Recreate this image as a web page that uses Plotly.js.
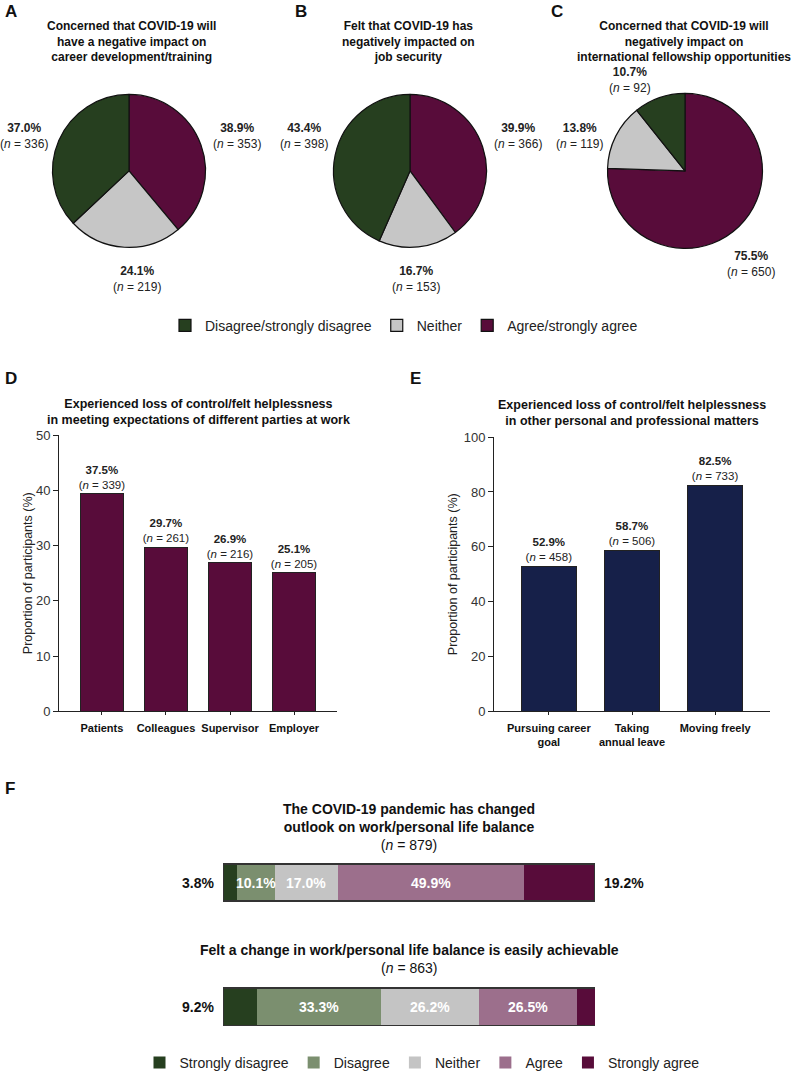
<!DOCTYPE html>
<html>
<head>
<meta charset="utf-8">
<script src="https://cdn.plot.ly/plotly-3.0.1.min.js"></script>
<style>
  html, body { margin: 0; padding: 0; background: #fff; }
  #chart { width: 795px; height: 1079px; }
</style>
</head>
<body>
<div id="chart"></div>
<script>
// Pies A-C: share of answers (same label order in every pie)
const pieLabels = ['Disagree/strongly disagree', 'Neither', 'Agree/strongly agree'];
const careerPct = [37.0, 24.1, 38.9];
const careerN = [336, 219, 353];
const jobPct = [43.4, 16.7, 39.9];
const jobN = [398, 153, 366];
const fellowPct = [10.7, 13.8, 75.5];
const fellowN = [92, 119, 650];

// Panel D: parties at work (bar heights as drawn, labels as printed)
const partiesCats = ['Patients', 'Colleagues', 'Supervisor', 'Employer'];
const partiesBar = [39.4, 29.7, 26.9, 25.1];
const partiesPct = [37.5, 29.7, 26.9, 25.1];
const partiesN = [339, 261, 216, 205];

// Panel E: other personal and professional matters
const mattersCats = ['Pursuing career<br>goal', 'Taking<br>annual leave', 'Moving freely'];
const mattersPct = [52.9, 58.7, 82.5];
const mattersN = [458, 506, 733];

// Panel F: work/life balance, 5-point scale
const likertLevels = ['Strongly disagree', 'Disagree', 'Neither', 'Agree', 'Strongly agree'];
const balanceQs = ['outlook', 'achievable'];
const balanceTitles = ['The COVID-19 pandemic has changed<br>outlook on work/personal life balance',
                       'Felt a change in work/personal life balance is easily achievable'];
const balanceN = [879, 863];
const outlookPct = [3.8, 10.1, 17.0, 49.9, 19.2];
const achievablePct = [9.2, 33.3, 26.2, 26.5, 4.9];

const PIE_COLORS = ['#263f1f', '#c6c6c6', '#580c3a'];
const LIKERT_COLORS = ['#263f1f', '#7b8f6f', '#c4c4c4', '#9c6f8c', '#580c3a'];
const PARTIES_COLOR = '#580c3a';
const MATTERS_COLOR = '#162049';

const W = 795, H = 1079;
const px = v => v / W;
const py = v => 1 - v / H;
const nLabel = (pct, n) => `<b>${pct.toFixed(1)}%</b><br>(<i>n</i> = ${n})`;
const sum = arr => arr.reduce((a, b) => a + b, 0);
const rev = arr => arr.slice().reverse();

const traces = [];

// pies: agree first, clockwise from 12 o'clock (legend is reversed back)
function pieTrace(values, x0, y0, size) {
    return {
        type: 'pie',
        labels: rev(pieLabels),
        values: rev(values),
        sort: false,
        direction: 'clockwise',
        rotation: 0,
        marker: { colors: rev(PIE_COLORS), line: { color: '#111', width: 1.2 } },
        textinfo: 'none',
        hoverinfo: 'label+percent',
        domain: { x: [px(x0), px(x0 + size)], y: [py(y0 + size), py(y0)] },
        legend: 'legend'
    };
}
traces.push(pieTrace(careerPct, 52, 95, 154));
traces.push(pieTrace(jobPct, 333, 95, 154));
traces.push(pieTrace(fellowPct, 607, 94, 156));

// D bars
traces.push({
    type: 'bar', x: partiesCats, y: partiesBar, xaxis: 'x', yaxis: 'y', width: 0.66,
    marker: { color: PARTIES_COLOR, line: { color: '#222', width: 1 } },
    text: partiesPct.map((p, i) => nLabel(p, partiesN[i])),
    textposition: 'outside', constraintext: 'none', cliponaxis: false,
    textfont: { size: 11.5, color: '#222' }, showlegend: false, hoverinfo: 'x+y'
});

// E bars
traces.push({
    type: 'bar', x: mattersCats, y: mattersPct, xaxis: 'x2', yaxis: 'y2', width: 0.66,
    marker: { color: MATTERS_COLOR, line: { color: '#222', width: 1 } },
    text: mattersPct.map((p, i) => nLabel(p, mattersN[i])),
    textposition: 'outside', constraintext: 'none', cliponaxis: false,
    textfont: { size: 11.5, color: '#222' }, showlegend: false, hoverinfo: 'x+y'
});

// F stacked bars
likertLevels.forEach((lvl, i) => {
    traces.push({
        type: 'bar', orientation: 'h', name: lvl,
        x: [outlookPct[i], achievablePct[i]], y: balanceQs,
        xaxis: 'x3', yaxis: 'y3', width: 0.3,
        marker: { color: LIKERT_COLORS[i], line: { color: '#333', width: 0 } },
        legend: 'legend2', hoverinfo: 'name+x'
    });
});
// outline round each stacked bar
traces.push({
    type: 'bar', orientation: 'h',
    x: [sum(outlookPct), sum(achievablePct)], y: balanceQs,
    xaxis: 'x4', yaxis: 'y4', width: 0.3,
    marker: { color: 'rgba(0,0,0,0)', line: { color: '#333', width: 1.5 } },
    showlegend: false, hoverinfo: 'skip'
});

// annotations
const annotations = [];
const letter = (t, x, y) => annotations.push({
    text: `<b>${t}</b>`, x: px(x), y: py(y), xref: 'paper', yref: 'paper',
    xanchor: 'left', yanchor: 'middle', showarrow: false, font: { size: 17, color: '#111' }
});
const title = (t, x, y, size) => annotations.push({
    text: t, x: px(x), y: py(y), xref: 'paper', yref: 'paper',
    xanchor: 'center', yanchor: 'middle', showarrow: false, font: { size: size, color: '#111' }
});

letter('A', 3, 12); letter('B', 293, 12); letter('C', 549, 12);
letter('D', 3, 381); letter('E', 408, 381); letter('F', 3, 794);

title('<b>Concerned that COVID-19 will<br>have a negative impact on<br>career development/training</b>', 131, 42, 12);
title('<b>Felt that COVID-19 has<br>negatively impacted on<br>job security</b>', 408, 42, 12);
title('<b>Concerned that COVID-19 will<br>negatively impact on<br>international fellowship opportunities</b>', 684, 42, 12);
title('<b>Experienced loss of control/felt helplessness<br>in meeting expectations of different parties at work</b>', 198, 415, 12.5);
title('<b>Experienced loss of control/felt helplessness<br>in other personal and professional matters</b>', 632, 416, 12.5);

// pie value labels
const pieSets = [[careerPct, careerN], [jobPct, jobN], [fellowPct, fellowN]];
const pieLabelPos = [
    [[24, 137], [137, 281], [237, 137]],
    [[304, 137], [416, 281], [518, 137]],
    [[630, 81], [580, 137], [751, 266]]
];
pieSets.forEach(([pct, n], k) => {
    pct.forEach((p, i) => {
        annotations.push({
            text: nLabel(p, n[i]), x: px(pieLabelPos[k][i][0]), y: py(pieLabelPos[k][i][1]),
            xref: 'paper', yref: 'paper', xanchor: 'center', yanchor: 'middle',
            showarrow: false, font: { size: 12, color: '#222' }
        });
    });
});

// F titles
title(`<b>${balanceTitles[0]}</b><br>(<i>n</i> = ${balanceN[0]})`, 409, 832, 14);
title(`<b>${balanceTitles[1]}</b><br>(<i>n</i> = ${balanceN[1]})`, 409, 965, 14);

// F segment labels
[outlookPct, achievablePct].forEach((vals, q) => {
    let cum = 0;
    vals.forEach((v, i) => {
        const base = { y: balanceQs[q], xref: 'x3', yref: 'y3', showarrow: false, yanchor: 'middle',
                       text: `<b>${v.toFixed(1)}%</b>` };
        if (i === 0) {
            annotations.push(Object.assign(base, { x: 0, xanchor: 'right', xshift: -7, font: { size: 14, color: '#111' } }));
        } else if (i === vals.length - 1) {
            annotations.push(Object.assign(base, { x: cum + v, xanchor: 'left', xshift: 7, font: { size: 14, color: '#111' } }));
        } else {
            annotations.push(Object.assign(base, { x: cum + v / 2, xanchor: 'center', font: { size: 14, color: '#fff' } }));
        }
        cum += v;
    });
});

const axisCommon = {
    showline: true, linecolor: '#222', linewidth: 1, showgrid: false, zeroline: false,
    ticks: 'outside', tickcolor: '#222', fixedrange: true
};
const fRange = [0, 100];
const fYRange = [1.2, -0.2];

const layout = {
    width: W, height: H,
    margin: { l: 0, r: 0, t: 0, b: 0 },
    paper_bgcolor: '#fff', plot_bgcolor: 'rgba(0,0,0,0)',
    font: { family: 'Liberation Sans, Arial, sans-serif', color: '#222' },
    barmode: 'stack',
    showlegend: true,
    xaxis: Object.assign({}, axisCommon, {
        domain: [px(59), px(337)], anchor: 'y', range: [-0.67, 3.67], ticklen: 3, ticklabelstandoff: 3,
        tickfont: { size: 11, color: '#111', weight: 'bold' }
    }),
    yaxis: Object.assign({}, axisCommon, {
        domain: [py(716), py(438)], anchor: 'x', range: [0, 50], dtick: 10, ticklen: 5,
        tickfont: { size: 13, color: '#333' },
        title: { text: 'Proportion of participants (%)', font: { size: 12.5, color: '#222' }, standoff: 0 }
    }),
    xaxis2: Object.assign({}, axisCommon, {
        domain: [px(494), px(770)], anchor: 'y2', range: [-0.66, 2.66], ticklen: 3, ticklabelstandoff: 3,
        tickfont: { size: 11, color: '#111', weight: 'bold' }
    }),
    yaxis2: Object.assign({}, axisCommon, {
        domain: [py(716), py(440)], anchor: 'x2', range: [0, 100], dtick: 20, ticklen: 5,
        tickfont: { size: 13, color: '#333' },
        title: { text: 'Proportion of participants (%)', font: { size: 12.5, color: '#222' }, standoff: 3 }
    }),
    xaxis3: { domain: [px(223), px(595)], anchor: 'y3', range: fRange, visible: false, fixedrange: true },
    yaxis3: { domain: [py(1038.3), py(863.3)], anchor: 'x3', type: 'category', categoryarray: balanceQs,
              range: fYRange, visible: false, fixedrange: true },
    xaxis4: { overlaying: 'x3', anchor: 'y4', range: fRange, visible: false, fixedrange: true },
    yaxis4: { overlaying: 'y3', anchor: 'x4', type: 'category', categoryarray: balanceQs,
              range: fYRange, visible: false, fixedrange: true },
    legend: {
        orientation: 'h', x: px(404), xanchor: 'center', y: py(328), yanchor: 'middle',
        font: { size: 14, color: '#222' }, bgcolor: 'rgba(0,0,0,0)', traceorder: 'reversed'
    },
    legend2: {
        orientation: 'h', x: px(422), xanchor: 'center', y: py(1070), yanchor: 'middle',
        font: { size: 14, color: '#222' }, bgcolor: 'rgba(0,0,0,0)', traceorder: 'normal'
    },
    annotations: annotations
};

Plotly.newPlot('chart', traces, layout, { displayModeBar: false, responsive: false });
</script>
</body>
</html>
